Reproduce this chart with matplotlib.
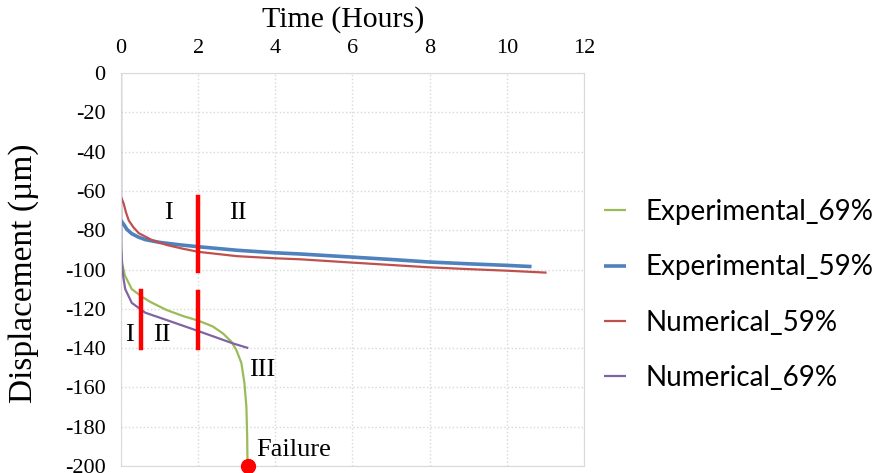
import numpy as np
import matplotlib
matplotlib.use('Agg')
from matplotlib import pyplot as plt

plt.rcParams['axes.unicode_minus'] = False

# data (time in hours, displacement in um)
exp69_t = [0, 0.03, 0.1, 0.28, 0.54, 0.75, 1.18, 1.61, 2.0, 2.38, 2.64, 2.86, 2.99, 3.12, 3.2, 3.25, 3.27, 3.28]
exp69_d = [-88, -97, -103, -110, -113.8, -116.4, -120.6, -123.7, -126, -129, -132.5, -136.7, -141, -147.6, -158, -170, -185, -200]

exp59_t = [0, 0.03, 0.07, 0.15, 0.28, 0.45, 0.63, 1.0, 1.5, 2.0, 3.0, 4.0, 4.64, 6.0, 7.0, 8.0, 9.0, 10.0, 10.64]
exp59_d = [-75, -76, -77, -79.5, -81.8, -83.5, -84.8, -86.2, -87.4, -88.4, -90.2, -91.5, -92.1, -93.7, -94.9, -96.2, -97.1, -97.9, -98.5]

num59_t = [0, 0.03, 0.07, 0.13, 0.2, 0.32, 0.46, 0.8, 1.18, 1.6, 2.0, 3.0, 4.0, 4.64, 6.0, 7.0, 8.0, 9.0, 10.0, 11.03]
num59_d = [-63, -64.5, -66.5, -71, -75, -78.5, -81.5, -85, -87.5, -89.4, -91, -93.2, -94.3, -94.8, -96.5, -97.7, -98.9, -99.8, -100.6, -101.6]

num69_t = [0, 0.003, 0.01, 0.03, 0.06, 0.11, 0.28, 0.63, 1.18, 2.0, 2.9, 3.3]
num69_d = [0, -60, -90, -98, -104, -110, -117, -122, -125.7, -131.3, -137.6, -140]

labels = ['Experimental_69%', 'Experimental_59%', 'Numerical_59%', 'Numerical_69%']
colors = ['#9BBB59', '#4F81BD', '#C0504D', '#8064A2']
widths = [1.6, 2.6, 1.6, 1.6]

# stage boundaries (red bars) and stage labels
bars_t = [2.0, 2.0, 0.53]
bars_top = [-63, -111.5, -111]
bars_bot = [-101, -140, -140]
stage_txt = ['I', 'II', 'I', 'II', 'III', 'Failure']
stage_t = [1.22, 3.03, 0.23, 1.06, 3.32, 3.5]
stage_d = [-71, -71, -133.5, -133.5, -151, -192]
stage_ha = ['center', 'center', 'center', 'center', 'left', 'left']
fail_t, fail_d = 3.28, -200

xticks = [0, 2, 4, 6, 8, 10, 12]
yticks = np.arange(0, -201, -20)

serif = 'Liberation Serif'

fig = plt.figure(figsize=(8.79, 4.73), dpi=100)
ax = fig.add_axes([121/879, 7/473, 463/879, 393/473])

series = [(exp69_t, exp69_d), (exp59_t, exp59_d), (num59_t, num59_d), (num69_t, num69_d)]
for (t, d), lab, c, w in zip(series, labels, colors, widths):
    ax.plot(t, d, color=c, lw=w, label=lab, solid_capstyle='butt')

for t, a, b in zip(bars_t, bars_top, bars_bot):
    ax.plot([t, t], [a, b], color='#FF0000', lw=3.2)

for s, t, d, ha in zip(stage_txt, stage_t, stage_d, stage_ha):
    ax.text(t, d, s, family=serif, fontsize=19, ha=ha, va='center')

ax.plot([fail_t], [fail_d], 'o', color='#FF0000', ms=10, clip_on=False, zorder=5)

ax.set_xlim(0, 12)
ax.set_ylim(-200, 0)
ax.set_xticks(xticks)
ax.set_yticks(yticks)
ax.xaxis.tick_top()
ax.xaxis.set_label_position('top')
ax.tick_params(length=0, labelsize=16, pad=11)
for lbl in ax.get_xticklabels() + ax.get_yticklabels():
    lbl.set_family(serif)
ax.set_xlabel('Time (Hours)', family=serif, fontsize=21.5)
ax.set_ylabel('Displacement (\u00b5m)', family=serif, fontsize=24)
ax.xaxis.set_label_coords(0.479, 1.117)
ax.yaxis.set_label_coords(-0.178, 0.49)

ax.grid(True, color='#D9D9D9', ls=':', lw=1)
ax.set_axisbelow(True)
for sp in ax.spines.values():
    sp.set_color('#D9D9D9')

h, l = ax.get_legend_handles_labels()
fig.legend(h, l, loc='center left', bbox_to_anchor=(604/879, 1 - 295/473),
           frameon=False, prop={'family': 'Lato', 'size': 20},
           handlelength=0.8, handletextpad=0.7, labelspacing=1.06,
           borderpad=0, borderaxespad=0)

fig.savefig('out.png', dpi=100)
